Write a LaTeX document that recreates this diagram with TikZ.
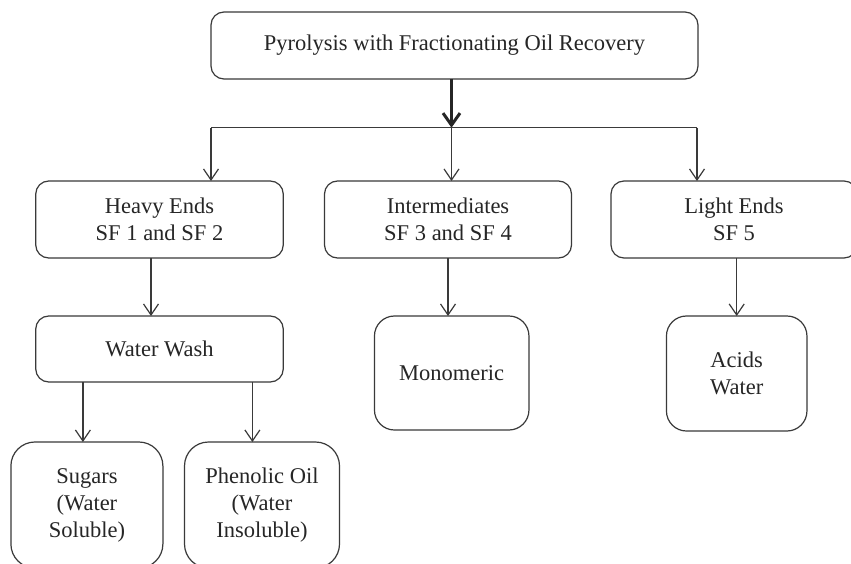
\documentclass[tikz,border=0pt]{standalone}
\usepackage{fontspec}
\setmainfont{Liberation Serif}
\usetikzlibrary{arrows.meta,calc}
\definecolor{linec}{HTML}{3A3A3A}
\definecolor{textc}{HTML}{262626}
\begin{document}
\begin{tikzpicture}[x=1pt,y=-1pt,
  box/.style={draw=linec, line width=1.2pt, rounded corners=13pt, inner sep=0pt, outer sep=0pt,
    align=center, text=textc, font=\fontsize{22.5}{27}\selectfont},
  arr/.style={draw=linec, line width=1.2pt, -{Straight Barb[length=11pt,width=15pt,line width=1.2pt]}},
  thickarr/.style={draw=black!85, line width=3pt, -{Straight Barb[length=12pt,width=17pt,line width=3pt]}},
  busline/.style={draw=linec, line width=1.2pt}]
\useasboundingbox (0,0) rectangle (851,564);
\clip (0,0) rectangle (851,564);
\fill[white] (0,0) rectangle (851,564);

\node[box, minimum width=487pt, minimum height=67pt] (top) at (454.5,45.5) {Pyrolysis with Fractionating Oil Recovery};

\node[box, minimum width=247.5pt, minimum height=77pt] (heavy) at (159.5,219.5) {Heavy Ends\\SF 1 and SF 2};
\node[box, minimum width=247pt, minimum height=77pt] (inter) at (448,219.5) {Intermediates\\SF 3 and SF 4};
\node[box, minimum width=246pt, minimum height=77pt] (light) at (734,219.5) {Light Ends\\SF 5};

\node[box, minimum width=247.5pt, minimum height=66pt] (ww) at (159.5,349) {Water Wash};
\node[box, rounded corners=20pt, minimum width=154.5pt, minimum height=114pt] (mono) at (451.7,373) {Monomeric};
\node[box, rounded corners=20pt, minimum width=140.5pt, minimum height=115pt] (acids) at (736.7,373.5) {Acids\\Water};

\node[box, rounded corners=24pt, minimum width=152pt, minimum height=126pt] (sug) at (86.9,505) {Sugars\\(Water\\Soluble)};
\node[box, rounded corners=24pt, minimum width=155pt, minimum height=126pt] (phen) at (262,505) {Phenolic Oil\\(Water\\Insoluble)};

\coordinate (busL) at (211,127.7);
\coordinate (busM) at (451.5,127.7);
\coordinate (busR) at (697,127.7);

\draw[thickarr] (busM |- top.south) -- (busM);
\draw[busline] (busL) -- (busR);
\draw[arr] (busL) -- (busL |- heavy.north);
\draw[arr] (busM) -- (busM |- inter.north);
\draw[arr] (busR) -- (busR |- light.north);

\draw[arr] ([xshift=-8.5pt]heavy.south) -- ([xshift=-8.5pt]heavy.south |- ww.north);
\draw[arr] (inter.south) -- (inter.south |- mono.north);
\draw[arr] (acids.north |- light.south) -- (acids.north);
\draw[arr] ([xshift=-4pt]sug.north |- ww.south) -- ([xshift=-4pt]sug.north);
\draw[arr] ([xshift=-9.6pt]phen.north |- ww.south) -- ([xshift=-9.6pt]phen.north);
\end{tikzpicture}
\end{document}
